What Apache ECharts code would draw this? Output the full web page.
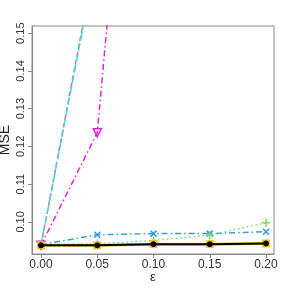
<!DOCTYPE html>
<html><head><meta charset="utf-8">
<script src="https://cdn.jsdelivr.net/npm/echarts@6/dist/echarts.min.js"></script>
<style>html,body{margin:0;padding:0;background:#fff}#c{width:288px;height:288px}</style>
</head><body><div id="c"></div>
<script>
const eps = [0, 0.05, 0.10, 0.15, 0.20];
const xTicks = [0, 0.05, 0.10, 0.15, 0.20];
const yTicks = [0.10, 0.11, 0.12, 0.13, 0.14, 0.15];
const redVals = [0.0938, 0.1722, 0.26, 0.34, 0.42];
const cyanVals = [0.0938, 0.1712, 0.25, 0.33, 0.41];
const magentaVals = [0.0938, 0.1236, 0.288, 0.36, 0.44];
const blueVals = [0.0940, 0.0966, 0.0969, 0.0969, 0.0974];
const greenVals = [0.0940, 0.0942, 0.0951, 0.0965, 0.0998];
const yellowVals = [0.0938, 0.0938, 0.0941, 0.0941, 0.0943];
const blackVals = [0.0938, 0.0938, 0.0941, 0.0941, 0.0943];

const pts = v => eps.map((x, i) => [x, v[i]]);
const chart = echarts.init(document.getElementById('c'), null, {renderer: 'canvas'});
const font = 'Liberation Sans, Arial, sans-serif';
function mk(name, vals, color, type, width, symbol, size, hollow, z) {
  return {
    name, type: 'line', data: pts(vals), clip: true, z: z,
    lineStyle: {color, type, width},
    symbol: symbol || 'none', symbolSize: size || 0,
    itemStyle: hollow ? {color: 'none', borderColor: color, borderWidth: 1.5} : {color, borderColor: color},
    emphasis: {disabled: true}
  };
}
chart.setOption({
  animation: false,
  grid: {left: 32, top: 26, right: 14, bottom: 34, outerBoundsMode: 'none', containLabel: false, show: true, borderColor: '#888', borderWidth: 1},
  xAxis: {
    type: 'value', min: -0.008, max: 0.2071,
    name: 'ε', nameLocation: 'middle', nameGap: 17, nameMoveOverlap: false,
    nameTextStyle: {fontFamily: font, fontSize: 13, color: '#222'},
    axisLine: {show: true, onZero: false, lineStyle: {color: '#888'}},
    axisTick: {show: true, length: 4, customValues: xTicks, lineStyle: {color: '#888'}},
    axisLabel: {customValues: xTicks, formatter: v => v.toFixed(2), fontFamily: font, fontSize: 12, color: '#333', margin: 5},
    splitLine: {show: false}
  },
  yAxis: {
    type: 'value', min: 0.0915, max: 0.1519,
    name: 'MSE', nameLocation: 'middle', nameGap: 20, nameMoveOverlap: false,
    nameTextStyle: {fontFamily: font, fontSize: 14, color: '#222'},
    axisLine: {show: true, onZero: false, lineStyle: {color: '#888'}},
    axisTick: {show: true, length: 4, customValues: yTicks, lineStyle: {color: '#888'}},
    axisLabel: {customValues: yTicks, formatter: v => v.toFixed(2), rotate: 90, fontFamily: font, fontSize: 11, color: '#333', margin: 6},
    splitLine: {show: false}
  },
  series: [
    mk('red', redVals, '#ee6a6a', [5, 3], 1.5, 'none', 0, false, 2),
    mk('cyan', cyanVals, '#33dde6', [8, 3], 1.5, 'none', 0, false, 3),
    mk('magenta', magentaVals, '#dd22dd', [6, 3, 1.5, 3], 1.5, 'path://M0,0L10,0L5,9Z', 8, true, 4),
    mk('blue', blueVals, '#3399ee', [6, 3, 1.5, 3], 1.5, 'path://M0,0L10,10M10,0L0,10', 6, true, 5),
    mk('green', greenVals, '#77dd55', [1.5, 3], 1.5, 'path://M5,0L5,10M0,5L10,5', 8, true, 6),
    mk('yellow', yellowVals, '#f2c22a', 'solid', 3, 'rect', 7, false, 7),
    mk('black', blackVals, '#000000', 'solid', 2, 'circle', 5, false, 8)
  ]
});
</script></body></html>
